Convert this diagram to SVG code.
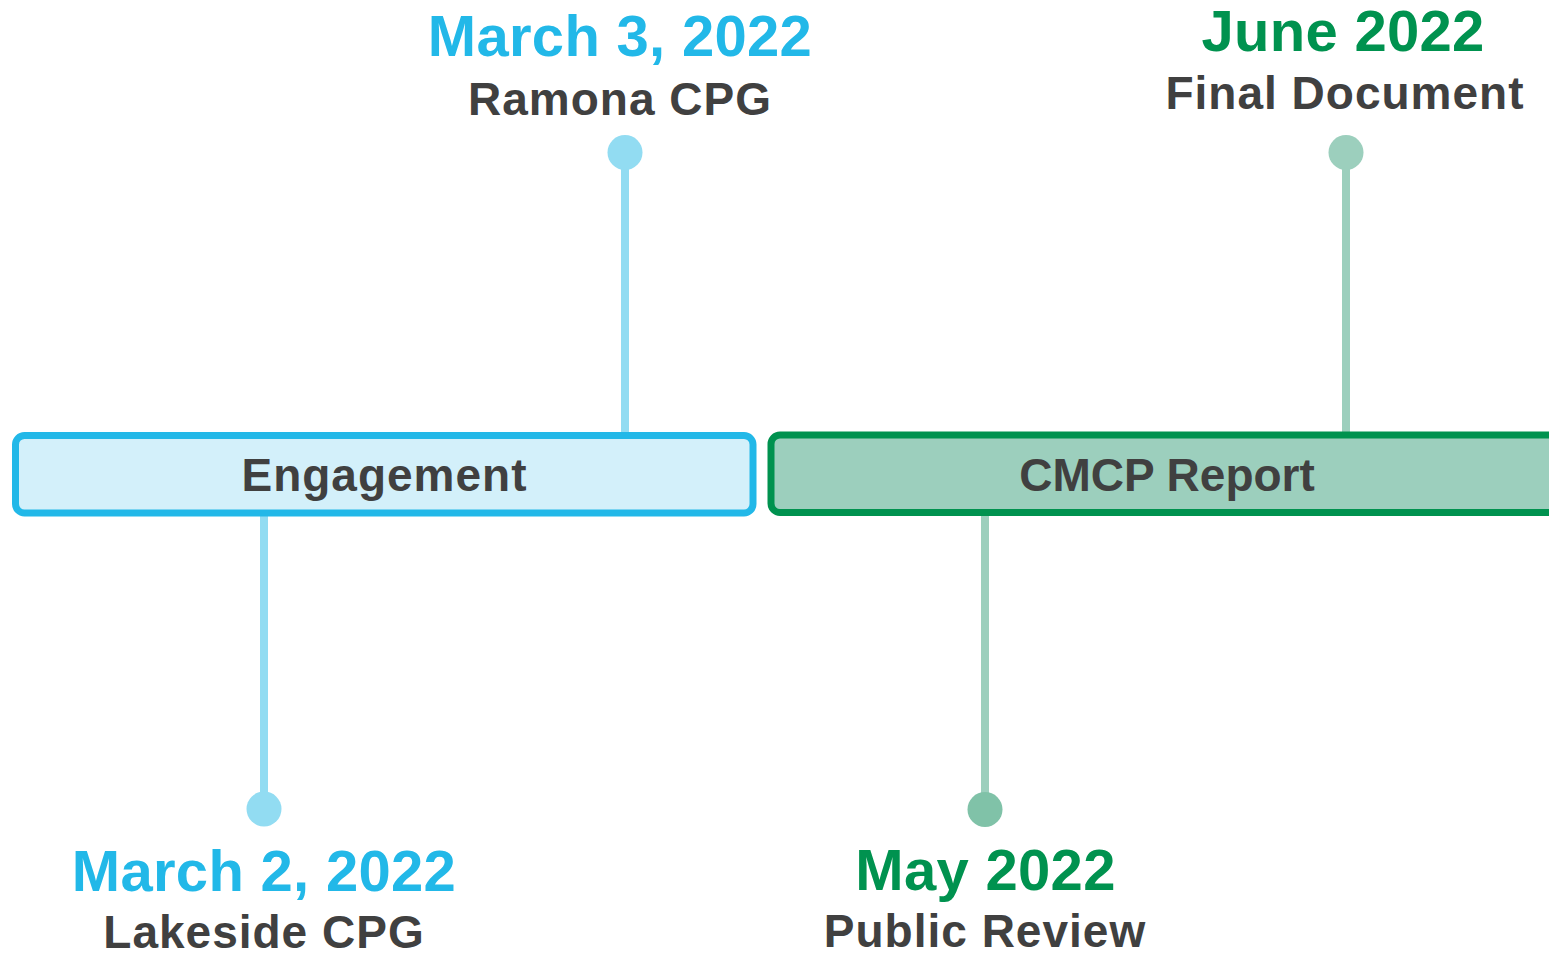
<svg xmlns="http://www.w3.org/2000/svg" width="1549" height="955" viewBox="0 0 1549 955">
<style>
text{font-family:"Liberation Sans",Arial,sans-serif;font-weight:bold;text-anchor:middle}
.date{font-size:58px;letter-spacing:0.3px}
.lbl{font-size:46px;fill:#404040;letter-spacing:1px}
.blue{fill:#22b8e8}
.green{fill:#00924f}
.phase{font-size:46px;fill:#404040}
</style>
<rect width="1549" height="955" fill="#ffffff"/>
<g id="connectors" stroke-width="8" fill="none">
<line x1="625" y1="165" x2="625" y2="434" stroke="#92dcf2"/>
<line x1="264" y1="515" x2="264" y2="796" stroke="#92dcf2"/>
<line x1="1346" y1="165" x2="1346" y2="434" stroke="#9ccfbd"/>
<line x1="985" y1="515" x2="985" y2="796" stroke="#9ccfbd"/>
</g>
<g id="engagement">
<rect x="15.5" y="435.5" width="737.5" height="77.5" rx="9" fill="#d3f0fa" stroke="#22b8e8" stroke-width="7"/>
<text class="phase" x="384.5" y="491" letter-spacing="1">Engagement</text>
</g>
<g id="cmcp-report">
<rect x="771" y="435" width="800" height="77.5" rx="9" fill="#9ccfbd" stroke="#00924f" stroke-width="7"/>
<text class="phase" x="1167" y="491">CMCP Report</text>
</g>
<g id="ramona">
<circle cx="625" cy="152.5" r="17.5" fill="#92dcf2"/>
<text class="date blue" x="620" y="56">March 3, 2022</text>
<text class="lbl" x="620" y="115">Ramona CPG</text>
</g>
<g id="lakeside">
<circle cx="264" cy="809" r="17.5" fill="#92dcf2"/>
<text class="date blue" x="264" y="891">March 2, 2022</text>
<text class="lbl" x="264" y="948">Lakeside CPG</text>
</g>
<g id="final-document">
<circle cx="1346" cy="152.5" r="17.5" fill="#9ccfbd"/>
<text class="date green" x="1343" y="51">June 2022</text>
<text class="lbl" x="1345" y="109">Final Document</text>
</g>
<g id="public-review">
<circle cx="985" cy="809.5" r="17.5" fill="#80c2a8"/>
<text class="date green" x="985.5" y="890">May 2022</text>
<text class="lbl" x="985" y="947">Public Review</text>
</g>
</svg>
